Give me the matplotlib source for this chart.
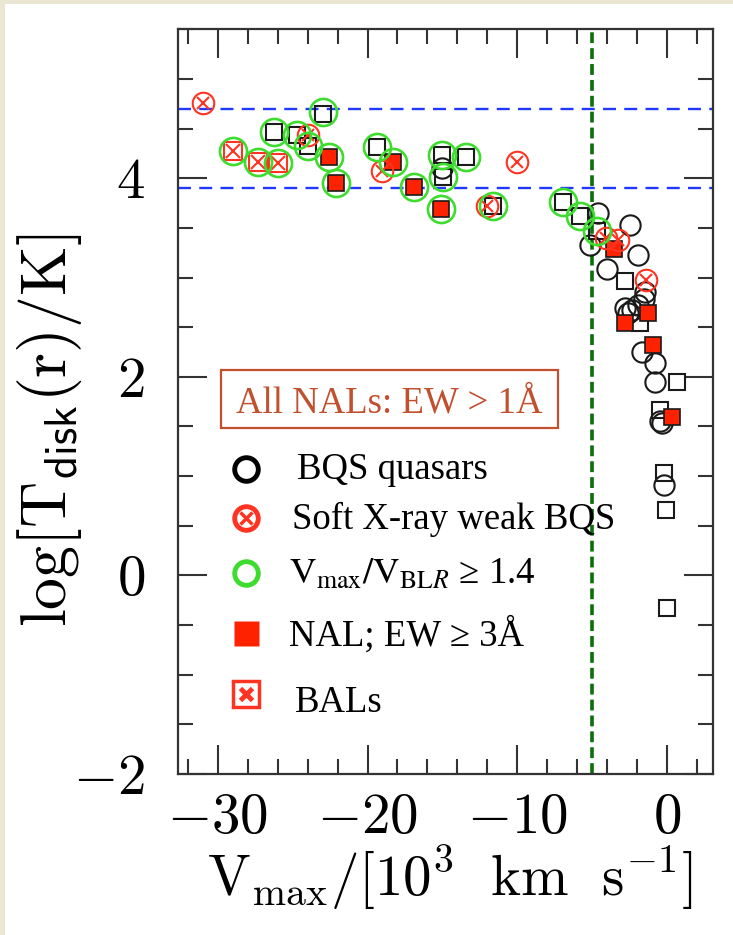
import numpy as np
import matplotlib.pyplot as plt
from matplotlib.patches import Rectangle
from matplotlib.ticker import MultipleLocator, FuncFormatter

## Plotting canvas properties.
params = {'mathtext.fontset': 'cm',
          'font.family': 'serif',
          'font.serif': ['Liberation Serif', 'DejaVu Serif'],
          'axes.linewidth': 1.6,
          'lines.scale_dashes': True,
          }
plt.rcParams.update(params)

## Data: V_max [10^3 km/s], log T_disk
# open black squares
sq_x = [-26.25, -24.7, -23.96, -22.95, -19.4, -15.04, -14.97, -13.4, -11.6,
        -6.91, -5.8, -4.65, -2.79, -1.78, 0.67, -0.45, -0.18, -0.05, 0.0]
sq_y = [4.47, 4.44, 4.32, 4.65, 4.31, 4.23, 4.01, 4.21, 3.72,
        3.76, 3.62, 3.47, 2.96, 2.54, 1.95, 1.67, 1.03, 0.66, -0.33]
# open black circles (BQS quasars)
bqs_x = [-15.0, -4.57, -5.13, -2.45, -1.89, -4.01, -1.45, -1.5, -2.79, -2.34,
         -1.95, -2.6, -1.67, -0.78, -0.78, -0.33, -0.45, -0.18]
bqs_y = [4.10, 3.65, 3.33, 3.53, 3.23, 3.09, 2.85, 2.78, 2.69, 2.67,
         2.72, 2.64, 2.25, 2.14, 1.95, 1.53, 1.55, 0.91]
# soft X-ray weak BQS
xw_x = [-31.0, -24.0, -19.05, -12.0, -10.0, -4.05, -3.23, -1.4]
xw_y = [4.76, 4.44, 4.07, 3.72, 4.16, 3.40, 3.38, 2.97]
# NAL; EW >= 3A
nal_x = [-22.55, -22.1, -18.3, -16.9, -15.1, -3.5, -1.23, -2.79, -0.9, 0.37]
nal_y = [4.21, 3.95, 4.16, 3.91, 3.69, 3.29, 2.64, 2.54, 2.32, 1.60]
# BALs
bal_x = [-29.0, -27.3, -26.0]
bal_y = [4.27, 4.16, 4.15]
# V_max/V_BLR >= 1.4
hv_x = [-29.0, -27.3, -26.0, -26.25, -24.7, -23.96, -22.95, -22.55, -22.1,
        -19.4, -18.3, -16.9, -15.04, -14.97, -15.1, -13.4, -11.6, -6.91, -5.8, -4.65]
hv_y = [4.27, 4.16, 4.15, 4.47, 4.44, 4.32, 4.67, 4.21, 3.95,
        4.31, 4.16, 3.91, 4.23, 4.01, 3.69, 4.21, 3.72, 3.76, 3.62, 3.47]

t_hi = 4.7
t_lo = 3.9
v_cut = -5.0

red = '#ff3322'
fill_red = '#ff2200'
green = '#3ddc2e'
rust = '#c1502e'
ink = '#1a1a1a'

fig = plt.figure(figsize=(7.33, 9.35), dpi=100)
fig.patch.set_facecolor('#ebe6d3')
fig.add_artist(Rectangle((5/733, 0), 1, 1 - 4/935, transform=fig.transFigure,
                         facecolor='white', edgecolor='none', zorder=-10))
ax = fig.add_axes([0.2432, 0.1722, 0.7291, 0.7965])

ax.axhline(t_hi, color='#2038ff', ls=(0, (5.5, 3.5)), lw=1.7, zorder=1)
ax.axhline(t_lo, color='#2038ff', ls=(0, (5.5, 3.5)), lw=1.7, zorder=1)
ax.axvline(v_cut, color='#0a6e0a', ls=(0, (3.0, 1.4)), lw=2.6, zorder=1)

ax.plot(sq_x, sq_y, 's', ms=12, mfc='none', mec=ink, mew=1.5, zorder=2)
ax.plot(bqs_x, bqs_y, 'o', ms=14.6, mfc='none', mec=ink, mew=1.5, zorder=2)
ax.plot(nal_x, nal_y, 's', ms=12, mfc=fill_red, mec=ink, mew=1.2, zorder=3)
ax.plot(bal_x, bal_y, 's', ms=12.5, mfc='none', mec=red, mew=1.5, zorder=3)
ax.plot(bal_x, bal_y, 'x', ms=10, mec=red, mew=1.5, zorder=3)
ax.plot(xw_x, xw_y, 'o', ms=15.5, mfc='none', mec=red, mew=1.5, zorder=4)
ax.plot(xw_x, xw_y, 'x', ms=9, mec=red, mew=1.5, zorder=4)
ax.plot(hv_x, hv_y, 'o', ms=19.5, mfc='none', mec=green, mew=1.9, zorder=5)

ax.set_xlim(-32.65, 3.07)
ax.set_ylim(-2.0, 5.5)
ax.xaxis.set_major_locator(MultipleLocator(10))
ax.xaxis.set_minor_locator(MultipleLocator(2))
ax.yaxis.set_major_locator(MultipleLocator(2))
ax.yaxis.set_minor_locator(MultipleLocator(0.5))
fmt = FuncFormatter(lambda v, p: r'$%d$' % round(v))
ax.xaxis.set_major_formatter(fmt)
ax.yaxis.set_major_formatter(fmt)
ax.tick_params(which='both', direction='in', top=True, right=True,
               color='#333333', width=1.5, labelsize=41)
ax.tick_params(which='major', length=21)
ax.tick_params(which='minor', length=11)
ax.tick_params(axis='x', pad=14)
ax.tick_params(axis='y', pad=24)
for s in ax.spines.values():
    s.set_color('#333333')

ax.set_xlabel(r'$\mathrm{V_{max}/[10^3\ \ km\ \ s^{-1}]}$', fontsize=41, labelpad=6)
ax.xaxis.set_label_coords(0.508, -0.093)
ax.set_ylabel(r'$\mathrm{log[T_{\mathsf{disk}}(r)/K]}$', fontsize=46)
ax.yaxis.set_label_coords(-0.176, 0.462)

## legend drawn by hand, as in the original
tr = ax.transAxes
ax.add_patch(Rectangle((0.0799, 0.4646), 0.6306, 0.0779, transform=tr,
                       facecolor='white', edgecolor=rust, lw=1.6, zorder=6))
ax.text(0.3952, 0.485, u'All NALs: EW > 1Å', transform=tr, color=rust,
        fontsize=26.5, ha='center', va='baseline', zorder=7)

mx = 0.127
ax.plot(mx, 0.4097, 'o', ms=17, mfc='none', mec='black', mew=3.5, transform=tr, zorder=7)
ax.text(0.2221, 0.3957, 'BQS quasars', transform=tr, fontsize=26.5, va='baseline')
ax.plot(mx, 0.3444, 'o', ms=17, mfc='none', mec=red, mew=3.5, transform=tr, zorder=7)
ax.plot(mx, 0.3444, 'x', ms=8, mec=red, mew=2.5, transform=tr, zorder=7)
ax.text(0.2137, 0.3289, 'Soft X-ray weak BQS', transform=tr, fontsize=26.5, va='baseline')
ax.plot(mx, 0.2695, 'o', ms=17, mfc='none', mec=green, mew=3.5, transform=tr, zorder=7)
ax.text(0.2071, 0.2551, r'$\mathrm{V_{max}/V_{BL\mathit{R}}}$ ≥ 1.4', transform=tr,
        fontsize=26.5, va='baseline', math_fontfamily='stix')
ax.plot(mx, 0.1898, 's', ms=18, mfc=fill_red, mec='none', transform=tr, zorder=7)
ax.text(0.2071, 0.1719, u'NAL; EW ≥ 3Å', transform=tr, fontsize=26.5, va='baseline')
ax.plot(mx, 0.1071, 's', ms=19, mfc='white', mec=red, mew=2.5, transform=tr, zorder=7)
ax.plot(mx, 0.1071, 'x', ms=9, mec=red, mew=3.5, transform=tr, zorder=7)
ax.text(0.2184, 0.0837, 'BALs', transform=tr, fontsize=26.5, va='baseline')

plt.savefig('out.png', dpi=100)
